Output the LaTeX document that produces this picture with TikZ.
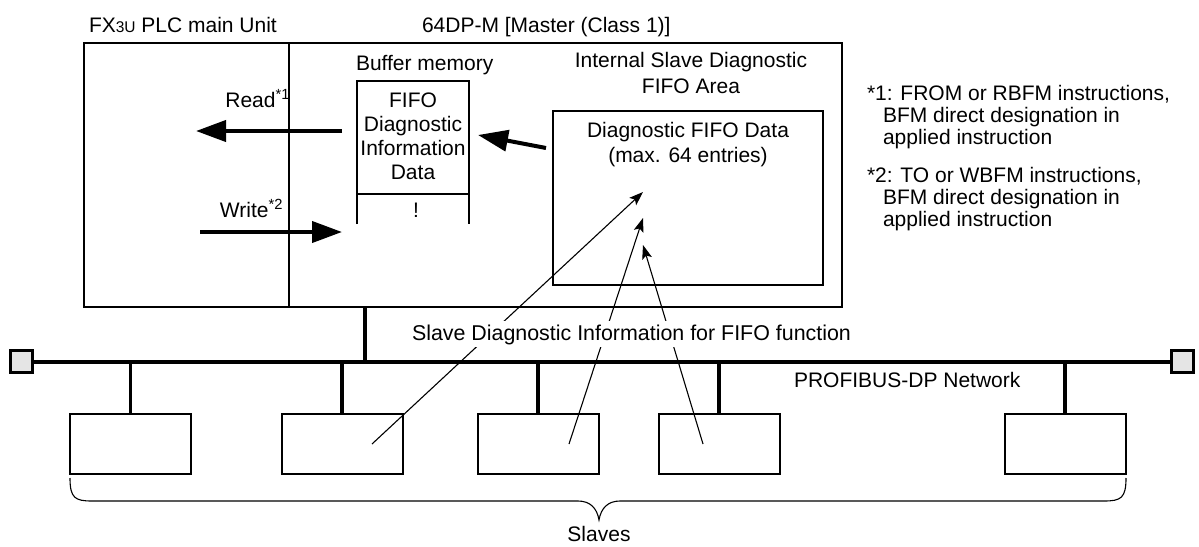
\documentclass[tikz,border=0pt]{standalone}
\usepackage{fontspec}
\setmainfont{Liberation Sans}
\usetikzlibrary{arrows.meta}
\begin{document}
\begin{tikzpicture}[x=1pt,y=-1pt,
  every node/.style={font=\fontsize{21}{24}\selectfont, inner sep=0pt, outer sep=0pt},
  frame/.style={draw, line width=2pt},
  slavebox/.style={draw, line width=2pt, minimum width=121pt, minimum height=60pt, anchor=north},
  thickline/.style={line width=4pt},
  droplink/.style={line width=3.5pt},
  bigarrow/.style={line width=4pt, -{Triangle[length=30pt,width=21pt]}},
  thinarrow/.style={line width=1.1pt, -{Stealth[length=14pt,width=10pt,inset=3pt]}},
  terminator/.style={draw, line width=2.5pt, fill=black!10, minimum width=22pt, minimum height=22pt},
  txt/.style={anchor=base},
  txtl/.style={anchor=base west},
  txtr/.style={anchor=base east}]
\useasboundingbox (0,0) rectangle (1199,546);

% titles
\node[txtl] (tplc) at (89,32) {FX{\fontsize{15.5}{15.5}\selectfont 3U} PLC main Unit};
\node[txtl] (tmaster) at (422,32) {64DP-M [Master (Class 1)]};

% master frame
\node[frame, anchor=north west, minimum width=758pt, minimum height=264pt] (master) at (84,43) {};
\coordinate (divtop) at (289,43);
\coordinate (divbot) at (289,307);
\draw[line width=2pt] (divtop) -- (divbot);

% buffer memory
\node[txtl] (tbuf) at (356,70) {Buffer memory};
\coordinate (bufbl) at (357,224);
\coordinate (buftl) at (357,81);
\coordinate (buftr) at (469,81);
\coordinate (bufbr) at (469,224);
\draw[line width=2pt] (bufbl) -- (buftl) -- (buftr) -- (bufbr);
\coordinate (bufml) at (357,194);
\coordinate (bufmr) at (469,194);
\draw[line width=2pt] (bufml) -- (bufmr);
\node[txt] (b1) at (413,107) {FIFO};
\node[txt] (b2) at (413,131) {Diagnostic};
\node[txt] (b3) at (413,155) {Information};
\node[txt] (b4) at (413,179) {Data};
\node[txt] (bdots) at (416,217) {!};
\coordinate (bufin) at (478,135);
\coordinate (bufwr) at (342,232);

% internal FIFO area
\node[txt] (tint1) at (691,67) {Internal Slave Diagnostic};
\node[txt] (tint2) at (691,93) {FIFO Area};
\node[frame, anchor=north west, minimum width=270pt, minimum height=174pt] (fifo) at (553,111) {};
\node[txt] (f1) at (688,137) {Diagnostic FIFO Data};
\node[txt] (f2) at (688,162) {(max. 64 entries)};
\coordinate (fifoout) at (546,148);
\draw[bigarrow] (fifoout) -- (bufin);

% read / write
\node[txtr] (tread) at (290,107) {Read\textsuperscript{*1}};
\node[txtr] (twrite) at (283,217) {Write\textsuperscript{*2}};
\coordinate (readfrom) at (342,131);
\coordinate (readto) at (196,131);
\draw[bigarrow] (readfrom) -- (readto);
\coordinate (writefrom) at (200,232);
\draw[bigarrow] (writefrom) -- (bufwr);

% footnotes
\node[txtl] (n1a) at (867,100) {*1: FROM or RBFM instructions,};
\node[txtl] (n1b) at (883,122) {BFM direct designation in};
\node[txtl] (n1c) at (883,144) {applied instruction};
\node[txtl] (n2a) at (867,182) {*2: TO or WBFM instructions,};
\node[txtl] (n2b) at (883,204) {BFM direct designation in};
\node[txtl] (n2c) at (883,226) {applied instruction};

% network
\node[terminator] (termL) at (21.5,361.5) {};
\node[terminator] (termR) at (1182.5,361.5) {};
\draw[thickline] (termL.east) -- (termR.west);
\coordinate (mdrop) at (365,361);
\draw[droplink] (master.south -| mdrop) -- (mdrop);
\node[txtl] (tnet) at (794,387) {PROFIBUS-DP Network};

% slaves
\node[slavebox] (s1) at (130.5,414) {};
\node[slavebox] (s2) at (342,414) {};
\node[slavebox] (s3) at (538,414) {};
\node[slavebox] (s4) at (719,414) {};
\node[slavebox] (s5) at (1065,414) {};
\foreach \s in {s1,s2,s3,s4,s5}{
  \draw[droplink] (\s.north) -- (\s.north |- termL.center);
}

% diagnostic information lines
\coordinate (a1) at (372,444);
\coordinate (t1) at (643,192);
\coordinate (a2) at (569,444);
\coordinate (t2) at (643,218);
\coordinate (a3) at (703,444);
\coordinate (t3) at (643,245);
\draw[thinarrow] (a1) -- (t1);
\draw[thinarrow] (a2) -- (t2);
\draw[thinarrow] (a3) -- (t3);
\node[txtl, fill=white, inner sep=3pt, font=\fontsize{21.4}{24}\selectfont] (tdiag) at (409,340) {Slave Diagnostic Information for FIFO function};

% brace
\coordinate (brL) at (70,478);
\coordinate (brR) at (1126,478);
\coordinate (brT) at (599,520);
\draw[line width=1.1pt] (brL) .. controls (70,498) and (75,501) .. (92,501)
  -- (578,501) .. controls (590,501) and (597,508) .. (brT)
  .. controls (601,508) and (608,501) .. (620,501)
  -- (1104,501) .. controls (1121,501) and (1126,498) .. (brR);
\node[txt] (tslaves) at (599,541) {Slaves};
\end{tikzpicture}
\end{document}
